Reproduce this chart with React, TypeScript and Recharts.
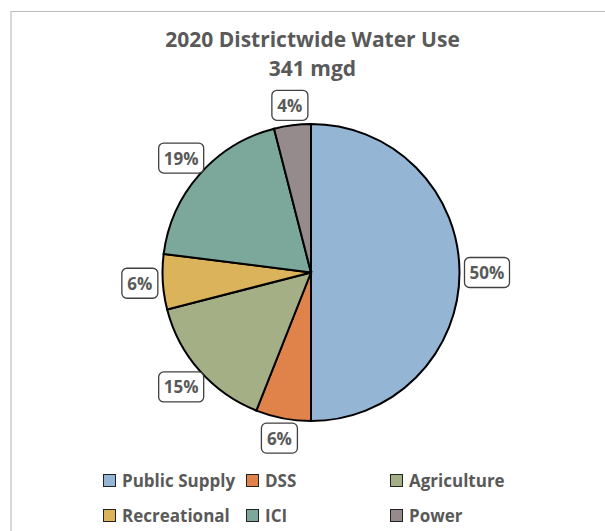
import React from 'react';
import { PieChart, Pie, Cell, Legend } from 'recharts';

const categories = ['Public Supply', 'DSS', 'Agriculture', 'Recreational', 'ICI', 'Power'];
const shares = [50, 6, 15, 6, 19, 4];
const sliceColors = ['#94B6D4', '#DF834A', '#A4AF86', '#DBB35B', '#7BA89B', '#968B8C'];
const titleLines = ['2020 Districtwide Water Use', '341 mgd'];

const data = categories.map((name, i) => ({ name, value: shares[i] }));

const FONT = '"Open Sans", "Liberation Sans", sans-serif';
const TEXT = '#595959';
const RAD = Math.PI / 180;

function renderLabel(props: any) {
  const { cx, cy, midAngle, outerRadius, value } = props;
  const text = `${value}%`;
  const w = text.length === 2 ? 36 : 45;
  const h = 30;
  const ux = Math.cos(-midAngle * RAD);
  const uy = Math.sin(-midAngle * RAD);
  const ext = Math.sqrt(Math.pow((ux * w) / 2, 2) + Math.pow((uy * h) / 2, 2));
  const d = outerRadius + 5 + ext;
  const x = cx + d * ux;
  const y = cy + d * uy;
  return (
    <g>
      <rect x={x - w / 2} y={y - h / 2} width={w} height={h} rx={5} ry={5} fill="#fff" stroke="#404040" strokeWidth={1.3} />
      <text x={x} y={y} textAnchor="middle" dominantBaseline="central" fontFamily={FONT} fontWeight={700} fontSize={17} fill={TEXT}>
        {text}
      </text>
    </g>
  );
}

function renderLegend(props: any) {
  const payload = props.payload || [];
  const colX = [103, 246, 390];
  const rowY = [18, 53];
  return (
    <div style={{ position: 'relative', width: 605, height: 70 }}>
      {payload.map((p: any, i: number) => {
        const idx = categories.indexOf(p.value);
        const k = idx >= 0 ? idx : i;
        const col = k % 3;
        const row = Math.floor(k / 3);
        return (
          <div
            key={p.value}
            style={{
              position: 'absolute',
              left: colX[col],
              top: rowY[row] - 12,
              height: 24,
              display: 'flex',
              alignItems: 'center',
              whiteSpace: 'nowrap',
            }}
          >
            <span
              style={{
                display: 'inline-block',
                width: 11,
                height: 11,
                background: sliceColors[k],
                border: '1.5px solid #222',
                marginRight: 6,
              }}
            />
            <span style={{ fontFamily: FONT, fontWeight: 700, fontSize: 17, color: TEXT }}>{p.value}</span>
          </div>
        );
      })}
    </div>
  );
}

export default function App() {
  return (
    <div style={{ position: 'absolute', left: 0, top: 0, width: 605, height: 531, background: '#fff', overflow: 'hidden' }}>
      <div style={{ position: 'absolute', left: 10, top: 11, width: 600, height: 530, borderLeft: '2px solid #d9d9d9', borderTop: '1.5px solid #bfbfbf' }} />
      {titleLines.map((t, i) => (
        <div
          key={t}
          style={{
            position: 'absolute',
            left: 10,
            width: 605,
            top: 25 + i * 29,
            textAlign: 'center',
            fontFamily: FONT,
            fontWeight: 700,
            fontSize: 21,
            color: TEXT,
            lineHeight: '28px',
          }}
        >
          {t}
        </div>
      ))}
      <div style={{ position: 'absolute', left: 0, top: 0 }}>
        <PieChart width={605} height={531} margin={{ top: 0, right: 0, bottom: 0, left: 0 }}>
          <Pie
            data={data}
            dataKey="value"
            nameKey="name"
            cx={311}
            cy={272.5}
            outerRadius={148.5}
            startAngle={90}
            endAngle={-270}
            stroke="#000"
            strokeWidth={2}
            label={renderLabel}
            labelLine={false}
            isAnimationActive={false}
          >
            {data.map((d, i) => (
              <Cell key={d.name} fill={sliceColors[i]} stroke="#000" strokeWidth={2} />
            ))}
          </Pie>
          <Legend content={renderLegend} wrapperStyle={{ position: 'absolute', left: 0, top: 462, width: 605, height: 70 }} />
        </PieChart>
      </div>
    </div>
  );
}
